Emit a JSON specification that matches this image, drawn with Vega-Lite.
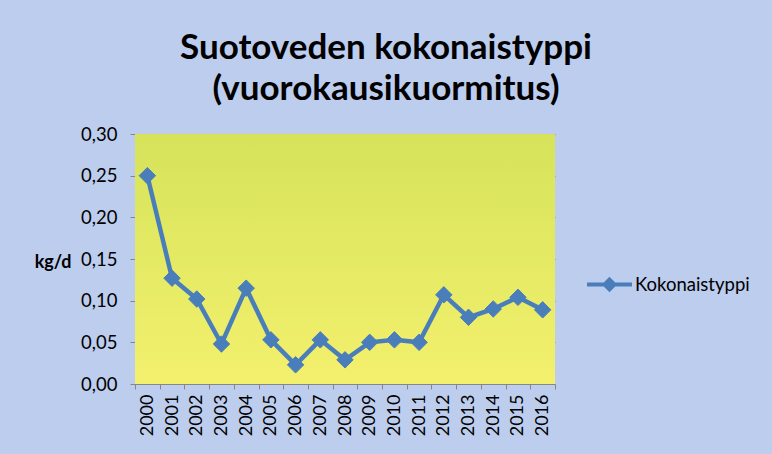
{
  "$schema": "https://vega.github.io/schema/vega-lite/v6.json",
  "width": 420,
  "height": 250,
  "autosize": {"type": "none"},
  "padding": {"left": 135, "top": 134, "right": 217, "bottom": 70},
  "background": "#bccdee",
  "config": {
    "locale": {"number": {"decimal": ",", "thousands": " ", "grouping": [3], "currency": ["", " €"]}},
    "font": "Lato",
    "view": {"stroke": null},
    "axis": {
      "labelFont": "Lato",
      "labelColor": "#000000",
      "domainColor": "#868686",
      "tickColor": "#868686",
      "gridColor": "#868686",
      "gridOpacity": 1,
      "tickSize": 5
    }
  },
  "title": {
    "text": ["Suotoveden kokonaistyppi", " (vuorokausikuormitus)"],
    "font": "Lato",
    "fontSize": 35,
    "fontWeight": "bold",
    "color": "#000000",
    "anchor": "middle",
    "dx": 41,
    "lineHeight": 41,
    "offset": 18
  },
  "data": {
    "values": [
      {"year": "2000", "value": 0.250},
      {"year": "2001", "value": 0.127},
      {"year": "2002", "value": 0.102},
      {"year": "2003", "value": 0.048},
      {"year": "2004", "value": 0.115},
      {"year": "2005", "value": 0.053},
      {"year": "2006", "value": 0.023},
      {"year": "2007", "value": 0.053},
      {"year": "2008", "value": 0.029},
      {"year": "2009", "value": 0.050},
      {"year": "2010", "value": 0.053},
      {"year": "2011", "value": 0.050},
      {"year": "2012", "value": 0.107},
      {"year": "2013", "value": 0.080},
      {"year": "2014", "value": 0.090},
      {"year": "2015", "value": 0.104},
      {"year": "2016", "value": 0.089}
    ]
  },
  "layer": [
    {
      "data": {"values": [{"bg": 1}]},
      "mark": {
        "type": "rect",
        "fill": {
          "gradient": "linear",
          "x1": 0, "y1": 0, "x2": 0, "y2": 1,
          "stops": [
            {"offset": 0, "color": "#d6e35a"},
            {"offset": 1, "color": "#f3f06e"}
          ]
        }
      },
      "encoding": {}
    },
    {
      "mark": {"type": "line", "color": "#4a7ebb", "strokeWidth": 4.5},
      "encoding": {
        "x": {
          "field": "year", "type": "ordinal",
          "scale": {"type": "band", "paddingInner": 0, "paddingOuter": 0},
          "axis": {
            "title": null,
            "labelAngle": -90,
            "labelAlign": "right",
            "labelBaseline": "middle",
            "labelFontSize": 18,
            "labelPadding": 5,
            "tickBand": "extent",
            "grid": false
          }
        },
        "y": {
          "field": "value", "type": "quantitative",
          "scale": {"domain": [0, 0.3], "nice": false},
          "axis": {
            "title": "kg/d",
            "titleAngle": 0,
            "titleAlign": "right",
            "titleBaseline": "middle",
            "titleFont": "Lato",
            "titleFontSize": 18,
            "titleFontWeight": "bold",
            "titleColor": "#000000",
            "titleX": -64,
            "titleY": 128,
            "values": [0, 0.05, 0.1, 0.15, 0.2, 0.25, 0.3],
            "format": ".2f",
            "labelFontSize": 18.5,
            "labelPadding": 13,
            "grid": true
          }
        },
        "color": {
          "datum": "Kokonaistyppi",
          "scale": {"range": ["#4a7ebb"]},
          "legend": {
            "title": null,
            "orient": "none",
            "legendX": 450,
            "legendY": 126,
            "symbolType": "M-1,0H1M0,-0.22L0.22,0L0,0.22L-0.22,0Z",
            "symbolSize": 2025,
            "symbolStrokeWidth": 4,
            "symbolFillColor": "#4a7ebb",
            "symbolStrokeColor": "#4a7ebb",
            "labelFont": "Lato",
            "labelFontSize": 18.5,
            "labelColor": "#000000",
            "labelOffset": 1
          }
        }
      }
    },
    {
      "mark": {"type": "point", "shape": "diamond", "filled": true, "size": 270, "opacity": 1, "color": "#4a7ebb", "stroke": "#4a7ebb", "strokeWidth": 1},
      "encoding": {
        "x": {"field": "year", "type": "ordinal"},
        "y": {"field": "value", "type": "quantitative"}
      }
    }
  ]
}
